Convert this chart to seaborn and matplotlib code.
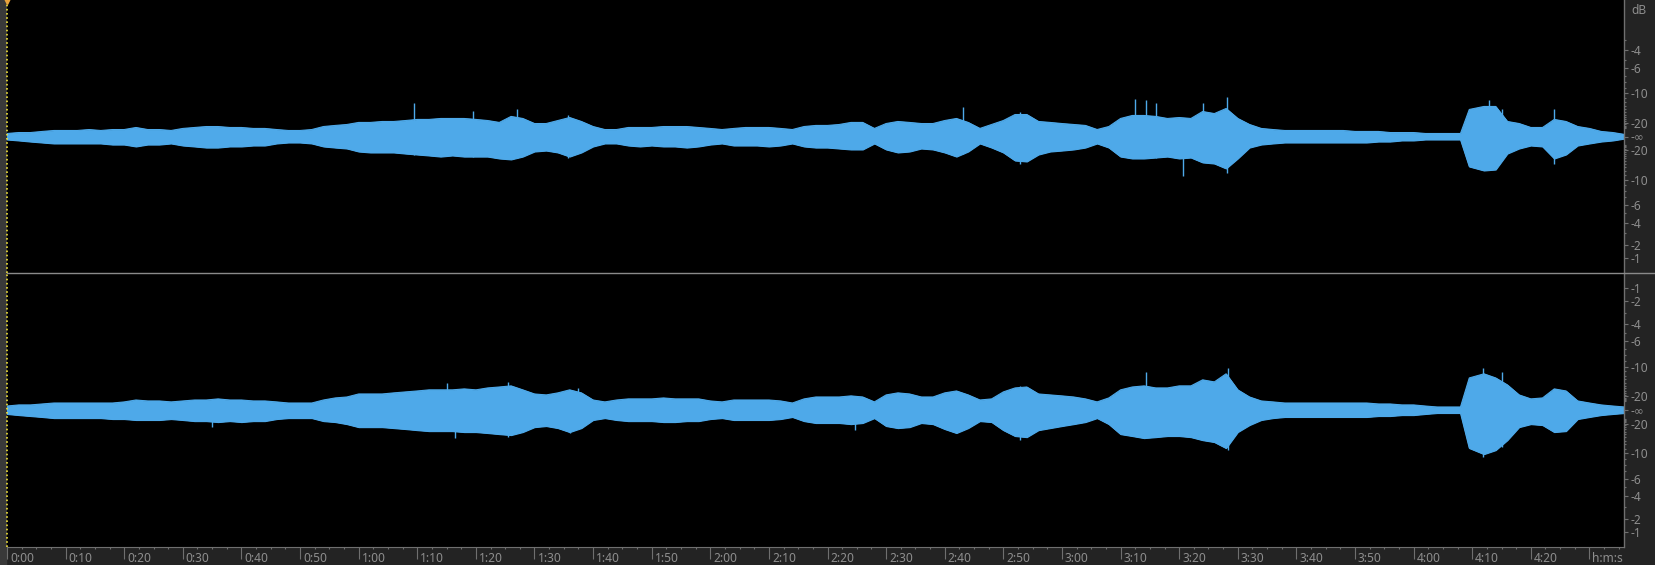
# Stereo waveform view (editor style): two channels, dB ruler on the right, time ruler below
import numpy as np
import matplotlib
matplotlib.use("Agg")
import matplotlib.pyplot as plt
import matplotlib.transforms as mtransforms
from matplotlib.lines import Line2D
from matplotlib.patches import Rectangle
from matplotlib.ticker import FixedLocator, MultipleLocator
import seaborn as sns

# -----------------------------
# Data: envelope in % of full scale
# -----------------------------
times = [0, 2, 4, 6, 8, 10, 12, 14, 16, 18, 20, 22, 24, 26, 28, 30, 32, 34, 36, 38,
         40, 42, 44, 46, 48, 50, 52, 54, 56, 58, 60, 62, 64, 66, 68, 70, 72, 74, 76, 78,
         80, 82, 84, 86, 88, 90, 92, 94, 96, 98, 100, 102, 104, 106, 108, 110, 112, 114, 116, 118,
         120, 122, 124, 126, 128, 130, 132, 134, 136, 138, 140, 142, 144, 146, 148, 150, 152, 154, 156, 158,
         160, 162, 164, 166, 168, 170, 172, 174, 176, 178, 180, 182, 184, 186, 188, 190, 192, 194, 196, 198,
         200, 202, 204, 206, 208, 210, 212, 214, 216, 218, 220, 222, 224, 226, 228, 230, 232, 234, 236, 238,
         240, 242, 244, 246, 248, 249.5, 252, 254, 256, 258, 260, 262, 264, 266, 268, 270, 272, 274, 276]

left_up = [2.2, 2.9, 2.9, 3.7, 4.4, 4.4, 4.4, 5.1, 4.4, 5.1, 5.1, 6.6, 5.1, 5.1, 4.4, 5.9, 6.6, 7.3, 7.3, 6.6,
           6.6, 5.9, 5.9, 5.1, 4.4, 4.4, 5.1, 7.3, 8.1, 8.8, 10.3, 10.3, 11.0, 11.0, 11.7, 12.5, 12.5, 13.2, 13.2, 13.2,
           12.5, 11.7, 10.3, 14.7, 13.2, 9.5, 9.5, 11.7, 13.9, 11.0, 7.3, 5.1, 5.1, 6.6, 6.6, 6.6, 7.3, 7.3, 7.3, 6.6,
           5.9, 5.1, 5.9, 6.6, 6.6, 6.6, 5.9, 5.1, 7.3, 8.1, 8.1, 8.8, 10.3, 10.3, 5.9, 9.5, 11.0, 10.3, 9.5, 9.5,
           11.7, 13.2, 10.3, 5.9, 8.8, 11.7, 16.1, 16.1, 11.0, 10.3, 9.5, 8.8, 8.1, 5.1, 7.3, 13.2, 15.4, 15.4, 14.7, 13.2,
           13.9, 13.2, 18.3, 16.8, 20.5, 13.2, 8.8, 5.9, 5.1, 4.4, 4.4, 4.4, 4.4, 4.4, 4.4, 3.7, 3.7, 3.7, 2.9, 2.9,
           2.9, 2.2, 2.2, 2.2, 2.2, 19.8, 22.0, 22.0, 11.0, 9.5, 6.6, 6.6, 12.5, 11.0, 7.3, 5.9, 3.7, 2.9, 1.5]

left_down = [2.2, 2.9, 3.7, 4.4, 5.1, 5.1, 5.1, 5.1, 5.1, 5.9, 5.9, 7.3, 5.9, 5.9, 5.1, 6.6, 7.3, 8.1, 8.1, 7.3,
             7.3, 6.6, 6.6, 5.1, 4.4, 4.4, 5.1, 7.3, 8.1, 8.8, 11.0, 11.7, 11.7, 11.7, 12.5, 13.2, 13.9, 14.7, 13.9, 14.7,
             14.7, 14.7, 16.1, 16.8, 14.7, 11.0, 10.3, 11.7, 14.7, 11.7, 7.3, 5.1, 5.1, 6.6, 7.3, 6.6, 7.3, 7.3, 8.1, 7.3,
             5.9, 5.1, 6.6, 6.6, 6.6, 7.3, 6.6, 5.1, 7.3, 8.1, 8.1, 8.8, 9.5, 9.5, 5.1, 9.5, 11.7, 11.0, 8.8, 9.5,
             11.7, 14.7, 11.0, 5.1, 8.1, 11.7, 17.6, 18.3, 13.2, 11.0, 10.3, 9.5, 8.1, 5.1, 8.1, 14.7, 16.1, 16.1, 15.4, 14.7,
             16.1, 15.4, 19.0, 19.8, 23.4, 16.1, 8.1, 5.9, 5.1, 4.4, 4.4, 4.4, 4.4, 4.4, 4.4, 4.4, 4.4, 3.7, 3.7, 2.9,
             2.9, 2.2, 2.2, 2.2, 2.2, 22.0, 24.9, 24.2, 12.5, 8.8, 6.6, 7.3, 16.1, 13.2, 6.6, 5.1, 3.7, 2.9, 1.5]

right_up = [2.9, 3.7, 3.7, 4.4, 5.1, 5.1, 5.1, 5.1, 5.1, 5.1, 5.9, 7.3, 6.6, 6.6, 5.9, 6.6, 7.3, 7.3, 8.1, 7.3,
            7.3, 6.6, 6.6, 5.9, 5.1, 5.1, 5.1, 7.3, 8.8, 9.5, 11.7, 11.7, 11.7, 12.5, 13.2, 13.9, 14.7, 14.7, 14.7, 15.4,
            14.7, 16.1, 16.8, 17.6, 14.7, 11.7, 11.0, 12.5, 14.7, 12.5, 7.3, 5.9, 7.3, 8.1, 8.1, 8.1, 8.8, 8.1, 8.1, 8.1,
            6.6, 5.9, 7.3, 7.3, 7.3, 7.3, 6.6, 5.1, 8.1, 9.5, 9.5, 9.5, 10.3, 9.5, 5.9, 11.0, 12.5, 11.7, 9.5, 9.5,
            12.5, 13.9, 11.0, 7.3, 8.1, 13.2, 16.1, 16.8, 11.7, 11.0, 10.3, 9.5, 8.1, 5.9, 8.8, 14.7, 16.8, 17.6, 16.1, 16.1,
            17.6, 17.6, 22.0, 20.5, 26.4, 14.7, 9.5, 6.6, 5.9, 5.1, 5.1, 5.1, 5.1, 5.1, 5.1, 5.1, 5.1, 4.4, 4.4, 3.7,
            3.7, 2.9, 2.2, 2.2, 2.2, 23.4, 26.4, 23.4, 18.3, 11.0, 8.1, 8.8, 15.4, 13.9, 6.6, 5.1, 3.7, 2.9, 2.2]

right_down = [2.9, 3.7, 4.4, 5.1, 5.9, 5.9, 5.9, 5.9, 5.9, 6.6, 6.6, 7.3, 7.3, 7.3, 6.6, 7.3, 8.1, 8.1, 8.8, 8.1,
              8.8, 8.1, 8.1, 6.6, 5.9, 5.9, 5.9, 8.1, 8.8, 10.3, 12.5, 12.5, 12.5, 13.2, 13.9, 14.7, 15.4, 15.4, 15.4, 16.1,
              16.1, 16.8, 17.6, 18.3, 16.1, 12.5, 11.7, 13.2, 16.1, 13.2, 7.3, 5.9, 7.3, 8.1, 8.1, 8.1, 8.8, 8.8, 8.1, 8.1,
              6.6, 5.9, 7.3, 7.3, 7.3, 7.3, 6.6, 5.1, 8.1, 9.5, 9.5, 9.5, 10.3, 9.5, 5.9, 11.7, 13.2, 12.5, 9.5, 10.3,
              13.9, 16.8, 13.2, 8.1, 8.8, 14.7, 19.0, 19.8, 14.7, 13.2, 11.7, 10.3, 8.8, 5.9, 10.3, 17.6, 19.0, 20.5, 19.8, 19.0,
              19.0, 19.8, 22.0, 23.4, 27.8, 16.1, 11.0, 7.3, 5.9, 5.1, 5.1, 5.1, 5.1, 5.1, 5.1, 5.1, 5.1, 4.4, 4.4, 3.7,
              3.7, 2.9, 2.2, 2.2, 2.2, 27.8, 32.2, 29.3, 22.0, 12.5, 10.3, 11.0, 16.1, 15.4, 6.6, 5.1, 3.7, 2.9, 2.2]

# single tall transients: (time s, peak up %, peak down %)
left_spikes = [(69.5, 24.2, 13.2), (79.5, 19.0, 14.7), (87.0, 20.5, 16.1), (95.7, 15.4, 15.4),
               (163.2, 21.3, 12.5), (172.8, 17.6, 19.8), (192.4, 27.8, 16.1), (194.4, 27.1, 16.1),
               (196.0, 24.2, 15.4), (200.7, 13.9, 28.6), (204.1, 24.9, 19.0), (208.1, 28.6, 26.4),
               (252.8, 27.1, 24.9), (255.1, 20.5, 15.4), (263.9, 20.5, 19.8)]
right_spikes = [(34.9, 8.1, 12.5), (75.0, 19.8, 15.4), (76.4, 14.7, 20.5), (85.5, 20.5, 19.8),
                (96.0, 14.7, 16.8), (97.4, 16.1, 13.2), (144.7, 10.3, 14.7), (172.8, 17.6, 22.0),
                (194.4, 27.8, 20.5), (208.4, 30.8, 29.3), (251.9, 30.8, 34.4), (255.1, 27.8, 27.1)]

# ruler labels
time_ticks = [0, 10, 20, 30, 40, 50, 60, 70, 80, 90, 100, 110, 120, 130, 140, 150, 160, 170,
              180, 190, 200, 210, 220, 230, 240, 250, 260, 270]
time_labels = ["0:00", "0:10", "0:20", "0:30", "0:40", "0:50", "1:00", "1:10", "1:20", "1:30",
               "1:40", "1:50", "2:00", "2:10", "2:20", "2:30", "2:40", "2:50", "3:00", "3:10",
               "3:20", "3:30", "3:40", "3:50", "4:00", "4:10", "4:20", "h:m:s"]
db_top_upper = [-4, -6, -10, -20]
db_bot_upper = [-1, -2, -4, -6, -10, -20]
db_lower = [-20, -10, -6, -4, -2, -1]
duration = 275.9

WAVE = "#4ea9e9"
RULER_BG = "#232323"
TICK_C = "#6f6f6f"
TEXT_C = "#8e8e8e"
LABEL_SIZE = 8.6

sns.set_style("ticks")
plt.rcParams['font.family'] = ['Noto Sans', 'DejaVu Sans']

W, H = 1655, 565
fig = plt.figure(figsize=(W / 100, H / 100), dpi=100, facecolor=RULER_BG)

x0, x1 = 7, 1624
y_div, y_bot = 273, 547
ax_l = fig.add_axes([x0 / W, (H - y_div) / H, (x1 - x0) / W, y_div / H])
ax_r = fig.add_axes([x0 / W, (H - y_bot) / H, (x1 - x0) / W, (y_bot - y_div) / H])


def db_to_pct(d):
    return 100 * 10 ** (d / 20)


def draw_channel(ax, up, down, spikes, db_upper):
    up = np.array(up)
    down = np.array(down)
    ax.set_facecolor("black")
    ax.fill_between(times, up, -down, color=WAVE, linewidth=0.8, edgecolor=WAVE)
    sns.lineplot(x=times, y=up, ax=ax, color=WAVE, linewidth=0.8)
    sns.lineplot(x=times, y=-down, ax=ax, color=WAVE, linewidth=0.8)
    st, su, sd = zip(*spikes)
    ax.vlines(st, -np.array(sd), su, color=WAVE, linewidth=1.0)
    ax.set_xlim(0, duration)
    ax.set_ylim(-100, 100)
    ax.grid(False)

    # dB ruler on the right
    pos = [db_to_pct(d) for d in db_upper] + [0] + [-db_to_pct(d) for d in db_lower]
    labels = [f"-{abs(d)}" for d in db_upper] + ["-\u221e"] + [f"-{abs(d)}" for d in db_lower]
    ax.yaxis.tick_right()
    ax.set_yticks(pos)
    ax.set_yticklabels(labels)
    minor_db = [d for d in range(-1, -25, -1) if d not in (-1, -2, -4, -6, -10, -20)]
    ax.yaxis.set_minor_locator(FixedLocator([db_to_pct(d) for d in minor_db] +
                                            [-db_to_pct(d) for d in minor_db]))
    ax.tick_params(axis="y", which="major", length=3, width=0.8, color=TICK_C,
                   labelcolor=TEXT_C, labelsize=LABEL_SIZE, pad=1.5)
    ax.tick_params(axis="y", which="minor", length=1.5, width=0.8, color=TICK_C)

    for side in ("top", "left", "bottom"):
        ax.spines[side].set_visible(False)
    ax.spines["right"].set_color(TICK_C)
    ax.spines["right"].set_linewidth(1)

    # playhead at 0:00
    ax.axvline(0, color="#f2e23a", linestyle=(0, (1, 1.5)), linewidth=1.2, clip_on=False)


draw_channel(ax_l, left_up, left_down, left_spikes, db_top_upper)
draw_channel(ax_r, right_up, right_down, right_spikes, db_bot_upper)

ax_l.tick_params(axis="x", bottom=False, labelbottom=False)
ax_l.plot([0], [100], marker="v", color="#e8a23c", markersize=6, clip_on=False, zorder=5)

# time ruler
ax_r.spines["bottom"].set_visible(True)
ax_r.spines["bottom"].set_color(TICK_C)
ax_r.set_xticks(time_ticks)
ax_r.set_xticklabels(time_labels)
ax_r.xaxis.set_minor_locator(MultipleLocator(2.5))
ax_r.tick_params(axis="x", which="major", length=8.6, width=0.8, color=TICK_C,
                 labelcolor=TEXT_C, labelsize=LABEL_SIZE, pad=-5.0)
ax_r.tick_params(axis="x", which="minor", length=1.6, width=0.8, color=TICK_C)
shift = mtransforms.ScaledTranslation(3 / 100, 0, fig.dpi_scale_trans)
for lab in ax_r.get_xticklabels():
    lab.set_horizontalalignment("left")
    lab.set_transform(lab.get_transform() + shift)

# channel divider, left gutter, dB caption
fig.add_artist(Line2D([x0 / W, 1], [(H - y_div) / H] * 2, color="#8a8a8a", linewidth=1))
fig.add_artist(Rectangle((0, 0), 6 / W, 1, transform=fig.transFigure, color="#393939", zorder=-1))
fig.text(1631 / W, 1 - 11 / H, "dB", color=TEXT_C, fontsize=LABEL_SIZE, va="center", ha="left")

fig.savefig("out.png", dpi=100, facecolor=fig.get_facecolor())
